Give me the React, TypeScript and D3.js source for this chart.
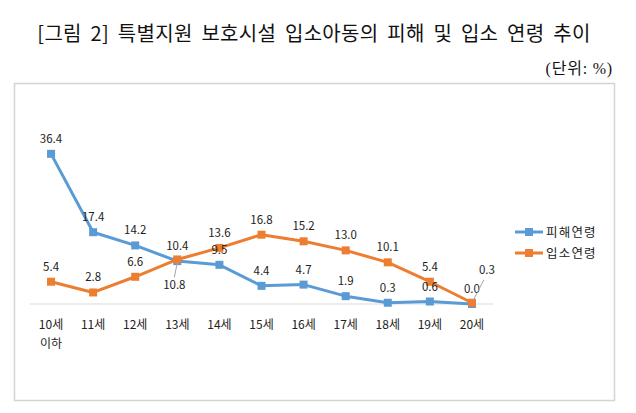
import React from "react";
import * as d3 from "d3";

const categories = ["10세\n이하", "11세", "12세", "13세", "14세", "15세", "16세", "17세", "18세", "19세", "20세"];
const damageAge = [36.4, 17.4, 14.2, 10.4, 9.5, 4.4, 4.7, 1.9, 0.3, 0.6, 0.0];
const admitAge = [5.4, 2.8, 6.6, 10.8, 13.6, 16.8, 15.2, 13.0, 10.1, 5.4, 0.3];
const seriesNames = ["피해연령", "입소연령"];
const seriesColors = ["#5b9bd5", "#ed7d31"];
// where the admit labels sit: most above, a couple pulled out with a leader line
const admitLabelPlace = ["up", "up", "up", "down", "up", "up", "up", "up", "up", "up", "out"];

const W = 636;
const H = 413;
const font = "'Noto Sans CJK KR', 'Noto Sans', sans-serif";

export default function App() {
  const x = d3.scaleBand<string>().domain(categories).range([30, 493]).padding(0);
  const cx = (c: string) => (x(c) as number) + x.bandwidth() / 2;
  const y = d3.scaleLinear().domain([0, 40]).range([304, 139]);

  const line = d3
    .line<number>()
    .x((_, i) => cx(categories[i]))
    .y((d) => y(d));

  const series = [damageAge, admitAge];

  return (
    <svg width={W} height={H} style={{ position: "absolute", left: 0, top: 0 }}>
      <rect x={0} y={0} width={W} height={H} fill="#fff" />
      <text
        x={314}
        y={41}
        textAnchor="middle"
        fontFamily={font}
        fontSize={20}
        fill="#111"
        letterSpacing={0.3}
        wordSpacing={4}
      >
        [그림 2] 특별지원 보호시설 입소아동의 피해 및 입소 연령 추이
      </text>
      <text
        x={613}
        y={74}
        textAnchor="end"
        fontFamily="'Liberation Serif', 'Noto Sans CJK KR', serif"
        fontSize={16}
        fill="#111"
        letterSpacing={0.8}
      >
        (단위: %)
      </text>

      <rect x={14.5} y={83.5} width={600} height={317} fill="#fff" stroke="#d4d4d4" strokeWidth={1.5} />

      <line x1={30} x2={493} y1={y(0)} y2={y(0)} stroke="#d9d9d9" strokeWidth={1} />

      {categories.map((c) => (
        <text key={c} x={cx(c)} y={329} textAnchor="middle" fontFamily={font} fontSize={12} fill="#222">
          {c.split("\n").map((p, j) => (
            <tspan key={j} x={cx(c)} dy={j === 0 ? 0 : 19}>
              {p}
            </tspan>
          ))}
        </text>
      ))}

      {series.map((s, si) => (
        <g key={si}>
          <path d={line(s) || ""} fill="none" stroke={seriesColors[si]} strokeWidth={3} strokeLinejoin="round" />
          {s.map((v, i) => (
            <rect
              key={i}
              x={cx(categories[i]) - 4}
              y={y(v) - 4}
              width={8}
              height={8}
              fill={seriesColors[si]}
            />
          ))}
        </g>
      ))}

      {/* data labels */}
      {damageAge.map((v, i) => (
        <text key={"d" + i} x={cx(categories[i])} y={y(v) - 11} textAnchor="middle" fontFamily={font} fontSize={11.5} fill="#222">
          {v.toFixed(1)}
        </text>
      ))}
      {admitAge.map((v, i) => {
        const px = cx(categories[i]);
        const py = y(v);
        const place = admitLabelPlace[i];
        if (place === "down") {
          return (
            <g key={"a" + i}>
              <line x1={px} y1={py + 3} x2={px - 3} y2={py + 18} stroke="#a6a6a6" strokeWidth={1} />
              <text x={px - 3} y={py + 30} textAnchor="middle" fontFamily={font} fontSize={11.5} fill="#222">
                {v.toFixed(1)}
              </text>
            </g>
          );
        }
        if (place === "out") {
          return (
            <g key={"a" + i}>
              <line x1={px + 1} y1={py - 2} x2={px + 12} y2={py - 23} stroke="#a6a6a6" strokeWidth={1} />
              <text x={px + 15} y={py - 29} textAnchor="middle" fontFamily={font} fontSize={11.5} fill="#222">
                {v.toFixed(1)}
              </text>
            </g>
          );
        }
        return (
          <text key={"a" + i} x={px} y={py - 11} textAnchor="middle" fontFamily={font} fontSize={11.5} fill="#222">
            {v.toFixed(1)}
          </text>
        );
      })}

      {/* legend */}
      {seriesNames.map((n, i) => (
        <g key={n} transform={`translate(515, ${232 + i * 21})`}>
          <line x1={0} x2={28} y1={0} y2={0} stroke={seriesColors[i]} strokeWidth={3} />
          <rect x={10} y={-4} width={8} height={8} fill={seriesColors[i]} />
          <text x={31} y={4.5} fontFamily={font} fontSize={12.5} fill="#222" letterSpacing={1.2}>
            {n}
          </text>
        </g>
      ))}
    </svg>
  );
}
